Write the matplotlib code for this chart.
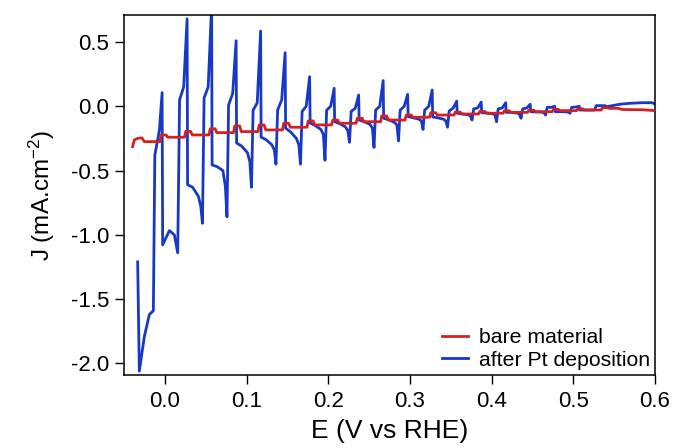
import matplotlib
matplotlib.use("Agg")
import matplotlib.pyplot as plt

plt.rcParams['font.family'] = ['Liberation Sans', 'DejaVu Sans']
plt.rcParams['mathtext.default'] = 'regular'

# after Pt deposition (blue) - potential (V vs RHE) and current density (mA/cm2)
blue_e = [-0.0333, -0.0313, -0.0251, -0.0190, -0.0141, -0.0123, -0.0067, -0.0034, -0.0027, -0.0006, 0.0055, 0.0116, 0.0157,
          0.018, 0.023, 0.0272, 0.0278, 0.034, 0.041, 0.044, 0.046,
          0.048, 0.053, 0.0572, 0.0578, 0.064, 0.071, 0.074, 0.076,
          0.078, 0.083, 0.0872, 0.0878, 0.094, 0.101, 0.104, 0.106,
          0.108, 0.113, 0.1172, 0.1178, 0.124, 0.131, 0.134, 0.136,
          0.138, 0.143, 0.1472, 0.1478, 0.154, 0.161, 0.164, 0.166,
          0.168, 0.173, 0.1772, 0.1778, 0.184, 0.191, 0.194, 0.196,
          0.198, 0.203, 0.2072, 0.2078, 0.214, 0.221, 0.224, 0.226,
          0.228, 0.233, 0.2372, 0.2378, 0.244, 0.251, 0.254, 0.256,
          0.258, 0.263, 0.2672, 0.2678, 0.274, 0.281, 0.284, 0.286,
          0.288, 0.293, 0.2972, 0.2978, 0.304, 0.311, 0.314, 0.316,
          0.318, 0.323, 0.3272, 0.3278, 0.334, 0.341, 0.344, 0.346,
          0.348, 0.353, 0.3572, 0.3578, 0.364, 0.371, 0.374, 0.376,
          0.378, 0.383, 0.3872, 0.3878, 0.394, 0.401, 0.404, 0.406,
          0.408, 0.413, 0.4172, 0.4178, 0.424, 0.431, 0.434, 0.436,
          0.438, 0.443, 0.4472, 0.4478, 0.454, 0.461, 0.464, 0.466,
          0.468, 0.473, 0.4772, 0.4778, 0.484, 0.491, 0.494, 0.496,
          0.498, 0.503, 0.5072, 0.5078, 0.514, 0.521, 0.524, 0.526,
          0.528, 0.5386, 0.541, 0.557, 0.569, 0.585, 0.596, 0.600]
blue_j = [-1.21, -2.06, -1.79, -1.62, -1.59, -0.38, -0.185, 0.106, -1.078, -1.05, -0.967, -1.00, -1.14,
          0.05, 0.15, 0.68, -0.61, -0.63, -0.70, -0.78, -0.91,
          0.065, 0.15, 0.78, -0.456, -0.47, -0.50, -0.62, -0.86,
          0.01, 0.10, 0.51, -0.285, -0.31, -0.36, -0.43, -0.63,
          -0.03, 0.026, 0.585, -0.24, -0.26, -0.30, -0.34, -0.45,
          -0.03, 0.05, 0.417, -0.17, -0.20, -0.25, -0.30, -0.45,
          -0.04, 0.0, 0.23, -0.13, -0.15, -0.18, -0.22, -0.42,
          -0.03, 0.0, 0.14, -0.12, -0.135, -0.16, -0.19, -0.28,
          -0.04, -0.016, 0.088, -0.107, -0.12, -0.14, -0.17, -0.32,
          -0.03, 0.0, 0.20, -0.093, -0.105, -0.125, -0.145, -0.27,
          -0.03, 0.0, 0.093, -0.08, -0.09, -0.10, -0.115, -0.18,
          -0.03, 0.0, 0.127, -0.083, -0.09, -0.10, -0.115, -0.163,
          -0.037, -0.013, 0.04, -0.054, -0.06, -0.066, -0.075, -0.107,
          -0.02, -0.013, 0.033, -0.05, -0.052, -0.058, -0.066, -0.12,
          -0.02, -0.013, 0.028, -0.047, -0.048, -0.053, -0.06, -0.093,
          -0.02, -0.013, 0.016, -0.042, -0.044, -0.045, -0.05, -0.068,
          -0.008, -0.008, 0.0, -0.042, -0.042, -0.043, -0.046, -0.054,
          -0.008, -0.006, 0.0, -0.029, -0.029, -0.029, -0.029, -0.029,
          0.005, 0.005, -0.003, 0.016, 0.023, 0.028, 0.028, 0.018]

# bare material (red)
red_e = [-0.0395, -0.0374, -0.0333, -0.028, -0.0251, -0.006, -0.0045, 0.0015, 0.0035,
         0.024, 0.0255, 0.0315, 0.0335,
         0.054, 0.0555, 0.0615, 0.0635,
         0.084, 0.0855, 0.0915, 0.0935,
         0.114, 0.1155, 0.1215, 0.1235,
         0.144, 0.1455, 0.1515, 0.1535,
         0.174, 0.1755, 0.1815, 0.1835,
         0.204, 0.2055, 0.2115, 0.2135,
         0.234, 0.2355, 0.2415, 0.2435,
         0.264, 0.2655, 0.2715, 0.2735,
         0.294, 0.2955, 0.3015, 0.3035,
         0.324, 0.3255, 0.3315, 0.3335,
         0.354, 0.3555, 0.3615, 0.3635,
         0.384, 0.3855, 0.3915, 0.3935,
         0.414, 0.4155, 0.4215, 0.4235,
         0.444, 0.4455, 0.4515, 0.4535,
         0.474, 0.4755, 0.4815, 0.4835,
         0.504, 0.5055, 0.5115, 0.5135,
         0.534, 0.5355, 0.5415, 0.5435, 0.555, 0.560, 0.585, 0.600]
red_j = [-0.314, -0.262, -0.249, -0.246, -0.275, -0.275, -0.223, -0.223, -0.241,
         -0.241, -0.195, -0.195, -0.223,
         -0.223, -0.175, -0.175, -0.205,
         -0.205, -0.153, -0.153, -0.197,
         -0.197, -0.145, -0.145, -0.184,
         -0.184, -0.132, -0.132, -0.163,
         -0.163, -0.114, -0.114, -0.145,
         -0.145, -0.107, -0.107, -0.132,
         -0.132, -0.093, -0.093, -0.12,
         -0.12, -0.075, -0.075, -0.107,
         -0.107, -0.068, -0.068, -0.085,
         -0.085, -0.05, -0.05, -0.068,
         -0.068, -0.045, -0.045, -0.06,
         -0.06, -0.04, -0.04, -0.054,
         -0.054, -0.035, -0.035, -0.047,
         -0.047, -0.03, -0.03, -0.042,
         -0.042, -0.023, -0.023, -0.034,
         -0.034, -0.02, -0.02, -0.029,
         -0.029, -0.011, -0.011, -0.016, -0.016, -0.025, -0.027, -0.034]

x_ticks = [0.0, 0.1, 0.2, 0.3, 0.4, 0.5, 0.6]
y_ticks = [-2.0, -1.5, -1.0, -0.5, 0.0, 0.5]

fig = plt.figure(figsize=(6.73, 4.48), dpi=100)
ax = fig.add_axes([0.1843, 0.163, 0.789, 0.8035])

ax.plot(red_e, red_j, color='#d42020', lw=2.0, label='bare material', zorder=3)
ax.plot(blue_e, blue_j, color='#1838c8', lw=2.0, label='after Pt deposition', zorder=2)

ax.set_xlim(-0.05, 0.6)
ax.set_ylim(-2.09, 0.71)
ax.set_xticks(x_ticks)
ax.set_xticklabels([f'{v:.1f}' for v in x_ticks])
ax.set_yticks(y_ticks)
ax.set_yticklabels([f'{v:.1f}' for v in y_ticks])
ax.tick_params(direction='out', length=6.5, width=1, labelsize=16, pad=4)
ax.tick_params(axis='x', pad=5)
for s in ax.spines.values():
    s.set_linewidth(1.1)

ax.set_xlabel('E (V vs RHE)', fontsize=19, labelpad=5)
ax.set_ylabel('J (mA.cm$^{-2}$)', fontsize=17.5, labelpad=10)

ax.legend(loc='lower right', frameon=False, fontsize=15.3, handlelength=1.2,
          handletextpad=0.5, labelspacing=0.15, borderpad=0.25, borderaxespad=0.0)

fig.savefig('out.png', dpi=100)
